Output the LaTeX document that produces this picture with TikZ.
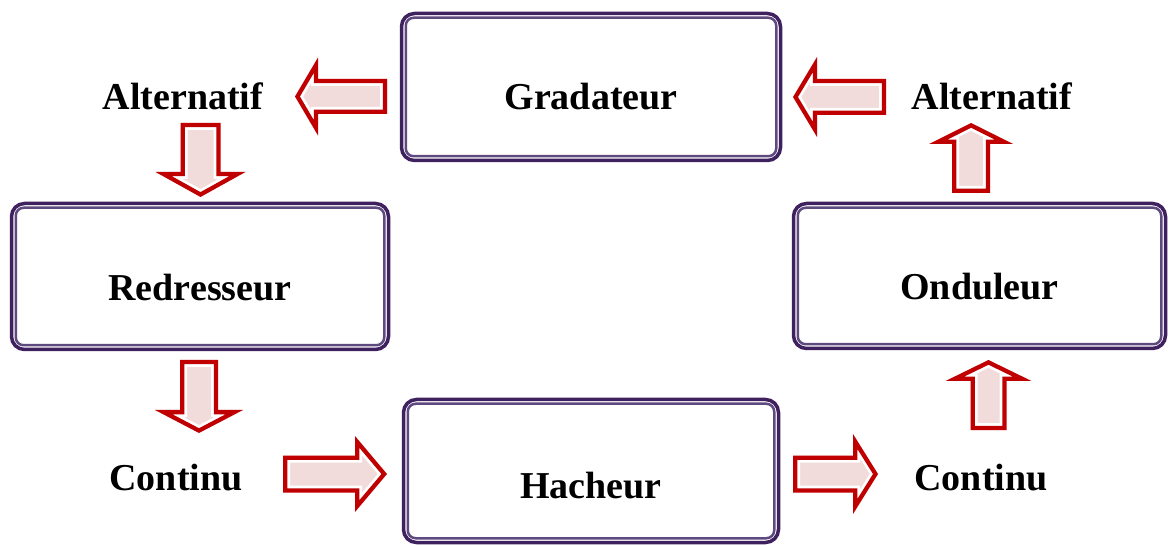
\documentclass[tikz,border=0pt]{standalone}
\usepackage{fontspec}
\setmainfont{Liberation Serif}
\definecolor{boxdark}{HTML}{3F215F}
\definecolor{boxlight}{HTML}{5E4A7E}
\definecolor{arrred}{HTML}{C00000}
\definecolor{arrfill}{HTML}{F2DCDB}
\tikzset{
  box/.style={draw=boxdark, line width=3.5pt, rounded corners=13pt, fill=white},
  lbl/.style={font=\fontsize{38}{42}\selectfont\bfseries, inner sep=0pt},
}
% #1 x, #2 y (tail), #3 angle, #4 length, #5 head length, #6 shaft half, #7 head half
\newcommand\blockarr[7]{%
  \begin{scope}[shift={(#1,#2)}, rotate=#3]
    \def\arrpath{(0,-#6) -- (#4-#5,-#6) -- (#4-#5,-#7) -- (#4,0) -- (#4-#5,#7) -- (#4-#5,#6) -- (0,#6) -- cycle}
    \begin{scope}
      \expandafter\clip\arrpath;
      \expandafter\fill\expandafter[arrfill]\arrpath;
      \expandafter\draw\expandafter[white, line width=14pt, line join=miter]\arrpath;
      \expandafter\draw\expandafter[arrred, line width=8.5pt, line join=miter]\arrpath;
    \end{scope}
  \end{scope}}
\newcommand\innerline[1]{%
  \draw[boxlight, line width=2.5pt, rounded corners=8pt]
    ([xshift=6pt,yshift=-6pt]#1.north west) rectangle ([xshift=-6pt,yshift=6pt]#1.south east);}
\begin{document}
\begin{tikzpicture}[x=1pt,y=-1pt]
\useasboundingbox (0,0) rectangle (1168,545);
% boxes
\node[box, minimum width=379pt, minimum height=147pt] (grad) at (591,87) {};
\node[box, minimum width=377pt, minimum height=146pt] (redr) at (200,276.5) {};
\node[box, minimum width=372pt, minimum height=145pt] (ondu) at (979.5,276) {};
\node[box, minimum width=375pt, minimum height=143pt] (hach) at (591,471) {};
\innerline{grad}
\innerline{redr}
\innerline{ondu}
\innerline{hach}
\node[lbl] (tgrad) at ([yshift=-10pt]grad.center) {Gradateur};
\node[lbl] (tredr) at ([yshift=-11pt]redr.center) {Redresseur};
\node[lbl] (tondu) at ([yshift=-11pt]ondu.center) {Onduleur};
\node[lbl] (thach) at ([yshift=-15pt]hach.center) {Hacheur};
% free labels
\node[lbl] (altl) at (183,96) {Alternatif};
\node[lbl] (altr) at (992,96) {Alternatif};
\node[lbl] (conl) at (176,478) {Continu};
\node[lbl] (conr) at (981,478) {Continu};
% block arrows
\blockarr{387}{96.5}{180}{92}{23}{17.5}{39}
\blockarr{886}{97}{180}{93}{24}{18}{40}
\blockarr{200.5}{123}{-90}{74}{25}{20}{45}
\blockarr{199}{360}{-90}{73}{23}{19}{44}
\blockarr{283}{474}{0}{104}{32}{18.5}{38}
\blockarr{793}{474}{0}{85}{25}{18.5}{40}
\blockarr{988.5}{430}{90}{70}{21}{18}{43}
\blockarr{971}{193}{90}{70}{21}{19}{42}
\end{tikzpicture}
\end{document}
